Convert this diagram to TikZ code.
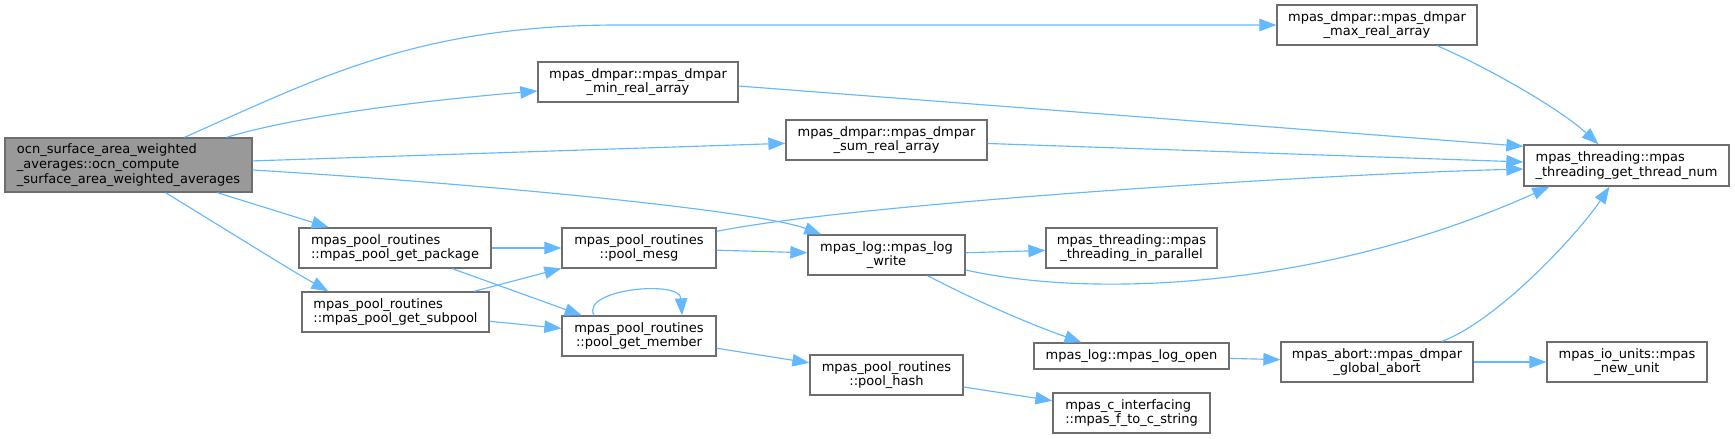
\documentclass[tikz,border=0pt]{standalone}
\usepackage{fontspec}
\setmainfont{DejaVu Sans}
\usepackage{tikz}
\usetikzlibrary{arrows.meta, calc}
\definecolor{edgeblue}{HTML}{63B8FF}
\definecolor{boxline}{HTML}{6E6E6E}
\definecolor{mainfill}{HTML}{999999}
\begin{document}
\begin{tikzpicture}[
    x=0.02cm, y=-0.02cm,
    func/.style={draw=boxline, fill=white, line width=0.75pt, inner sep=0pt,
        minimum height=0.8cm, align=center, font=\fontsize{7.4}{8.4}\selectfont},
    mainfunc/.style={func, fill=mainfill, minimum height=1.08cm},
    call/.style={draw=edgeblue, line width=0.65pt, -{Triangle[length=0.34cm, width=0.25cm]}}
]
    \useasboundingbox (0,0) rectangle (1735,439);
    % Main routine
    \node[mainfunc, minimum width=4.94cm, align=left] (main) at (128.5,165) {ocn\_surface\_area\_weighted\\\_averages::ocn\_compute\\\_surface\_area\_weighted\_averages};
    % Pool routines
    \node[func, minimum width=3.84cm, align=left] (getpkg) at (395,248) {mpas\_pool\_routines\\::mpas\_pool\_get\_package};
    \node[func, minimum width=3.74cm, align=left] (getsub) at (395.5,312) {mpas\_pool\_routines\\::mpas\_pool\_get\_subpool};
    \node[func, minimum width=3.08cm] (mesg) at (639,248) {mpas\_pool\_routines\\::pool\_mesg};
    \node[func, minimum width=3.08cm] (member) at (639,336) {mpas\_pool\_routines\\::pool\_get\_member};
    \node[func, minimum width=3.06cm] (hash) at (886.5,375) {mpas\_pool\_routines\\::pool\_hash};
    % Reductions
    \node[func, minimum width=4cm] (minarr) at (638,82) {mpas\_dmpar::mpas\_dmpar\\\_min\_real\_array};
    \node[func, minimum width=4.02cm] (sumarr) at (886.5,140) {mpas\_dmpar::mpas\_dmpar\\\_sum\_real\_array};
    \node[func, minimum width=4cm] (maxarr) at (1377,25) {mpas\_dmpar::mpas\_dmpar\\\_max\_real\_array};
    % Logging and threading
    \node[func, minimum width=3.14cm] (logwrite) at (886.5,255) {mpas\_log::mpas\_log\\\_write};
    \node[func, minimum width=3.42cm] (parallel) at (1131.5,248) {mpas\_threading::mpas\\\_threading\_in\_parallel};
    \node[func, minimum width=3.9cm, minimum height=0.52cm] (logopen) at (1131.5,356) {mpas\_log::mpas\_log\_open};
    \node[func, minimum width=3.14cm, align=left] (fstring) at (1131.5,413) {mpas\_c\_interfacing\\::mpas\_f\_to\_c\_string};
    \node[func, minimum width=3.84cm] (abort) at (1377,362) {mpas\_abort::mpas\_dmpar\\\_global\_abort};
    \node[func, minimum width=4.1cm, minimum height=0.82cm, align=left] (threadnum) at (1626.5,165.5) {mpas\_threading::mpas\\\_threading\_get\_thread\_num};
    \node[func, minimum width=3.2cm] (newunit) at (1627,362) {mpas\_io\_units::mpas\\\_new\_unit};

    % Calls from the main routine
    \draw[call] ($(main.north)+(56,0)$) .. controls +(135,-60) and +(-200,0) .. ($(maxarr.west)+(-657,0)$) -- (maxarr.west);
    \draw[call] ($(main.north)+(98,0)$) .. controls +(73,-22) and +(-108,9) .. ($(minarr.west)+(0,9)$);
    \draw[call] (main) -- (sumarr);
    \draw[call] ($(main.east)+(0,5)$) .. controls +(248,15) and +(-62,-23) .. ($(logwrite.north west)+(14,0)$);
    \draw[call] (main) -- (getpkg);
    \draw[call] ($(main.south)+(37,0)$) .. controls +(54,33) and +(-39,-22) .. ($(getsub.north west)+(27,0)$);
    % Pool routines
    \draw[call] (getpkg) -- (mesg);
    \draw[call] (getpkg) -- (member);
    \draw[call] (getsub) -- (mesg);
    \draw[call] (getsub) -- (member);
    \draw[call] ($(member.north)+(-45,0)$) .. controls +(-14,-26) and +(-2,-36) .. ($(member.north)+(43,0)$);
    \draw[call] (mesg) -- (logwrite);
    \draw[call] ($(mesg.north east)+(0,4)$) .. controls +(134,-27) and +(-224,6) .. ($(threadnum.west)+(0,3.5)$);
    \draw[call] (member) -- (hash);
    \draw[call] (hash) -- (fstring);
    % Logging
    \draw[call] (logwrite) -- (parallel);
    \draw[call] ($(logwrite.east)+(0,15)$) .. controls +(135,30) and +(-220,99) .. ($(threadnum.south west)+(26,0)$);
    \draw[call] ($(logwrite.south)+(41,0)$) .. controls +(52,27) and +(-51,-18) .. ($(logopen.north)+(-50,0)$);
    \draw[call] (logopen) -- (abort);
    \draw[call] ($(abort.north)+(65,0)$) .. controls +(58,-22) and +(-29,44) .. ($(threadnum.south)+(-17,0)$);
    \draw[call] (abort) -- (newunit);
    % Reductions
    \draw[call] ($(minarr.east)+(0,4)$) -- ($(threadnum.north west)+(0,2)$);
    \draw[call] (sumarr) -- (threadnum);
    \draw[call] ($(maxarr.south)+(60,0)$) .. controls +(53,23) and +(-38,-35) .. ($(threadnum.north)+(-28,0)$);
\end{tikzpicture}
\end{document}
